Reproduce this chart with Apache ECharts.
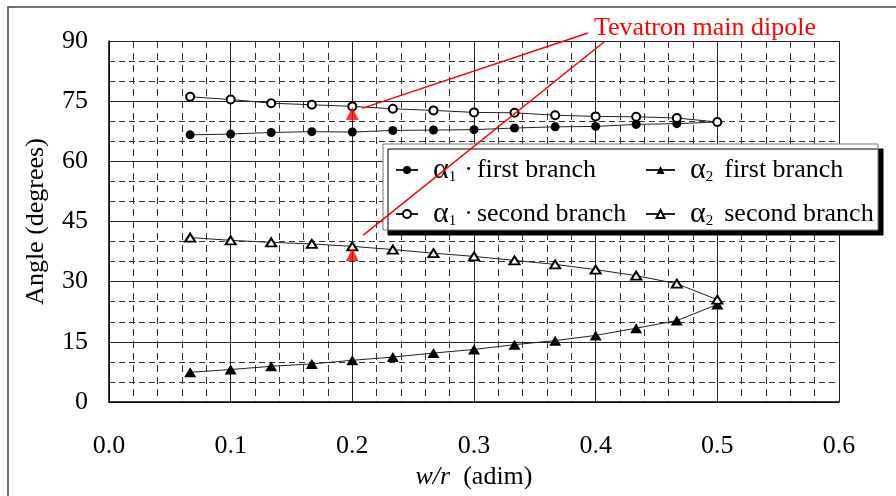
<!DOCTYPE html>
<html>
<head>
<meta charset="utf-8">
<script src="https://cdn.jsdelivr.net/npm/echarts@6/dist/echarts.min.js"></script>
<style>
  html, body { margin: 0; padding: 0; background: #fff; }
  #chart { width: 896px; height: 496px; }
</style>
</head>
<body>
<div id="chart"></div>
<script>
// w/r values (1/15 steps)
var wr = [0.0667, 0.1, 0.1333, 0.1667, 0.2, 0.2333, 0.2667, 0.3, 0.3333, 0.3667, 0.4, 0.4333, 0.4667, 0.5];
// angles in degrees
var a1First  = [66.6, 66.8, 67.2, 67.4, 67.3, 67.7, 67.8, 67.9, 68.3, 68.6, 68.7, 69.2, 69.4, 69.8];
var a1Second = [76.1, 75.4, 74.5, 74.1, 73.7, 73.1, 72.7, 72.2, 72.1, 71.5, 71.2, 71.1, 70.8, 69.8];
var a2First  = [7.4, 8.1, 8.9, 9.5, 10.4, 11.2, 12.2, 13.1, 14.3, 15.3, 16.6, 18.4, 20.3, 24.3];
var a2Second = [41.0, 40.3, 39.8, 39.4, 38.8, 38.0, 37.1, 36.3, 35.3, 34.3, 33.0, 31.5, 29.5, 25.5];
// Tevatron main dipole points
var tevatron = [[0.2, 71.9], [0.2, 36.7]];
var arrowTips = [[0.208, 73.2], [0.209, 41.6]];

var xTicks = [0, 0.6, 0.1];
var yTicks = [0, 90, 15];

function pairs(ys) {
    return wr.map(function (x, i) { return [x, ys[i]]; });
}

var FONT = 'Liberation Serif';

(function () {
    var chart = echarts.init(document.getElementById('chart'));

    var legendRich = {
        a: { fontSize: 30, fontFamily: FONT, color: '#000', padding: [0, 0, 0, 10], lineHeight: 30 },
        s: { fontSize: 15, fontFamily: FONT, color: '#000', verticalAlign: 'bottom', lineHeight: 17 },
        d: { fontSize: 26, fontFamily: FONT, color: '#000', padding: [0, 4, 0, 8] },
        t: { fontSize: 26, fontFamily: FONT, color: '#000' },
        t2: { fontSize: 26, fontFamily: FONT, color: '#000', padding: [0, 0, 0, 11] }
    };

    function legendText(name) {
        var idx = name.charAt(1);
        var rest = name.slice(3);
        if (idx === '1') {
            return '{a|α}{s|1}{d|·}{t|' + rest + '}';
        }
        return '{a|α}{s|2}{t2|' + rest + '}';
    }

    var option = {
        animation: false,
        backgroundColor: '#fff',
        grid: { left: 109, right: 57, top: 41, bottom: 94, containLabel: false, outerBoundsMode: 'none' },
        graphic: [
            {
                type: 'rect', z: -1, silent: true,
                shape: { x: 8, y: 7, width: 900, height: 500 },
                style: { fill: 'none', stroke: '#444', lineWidth: 1.5 }
            },
            {
                type: 'rect', z: 1, silent: true,
                shape: { x: 383, y: 144, width: 495, height: 86 },
                style: {
                    fill: '#fff', stroke: '#777', lineWidth: 1,
                    shadowColor: '#000', shadowBlur: 0, shadowOffsetX: 5, shadowOffsetY: 5
                }
            },
            {
                type: 'text', z: 10, silent: true,
                left: 594, top: 15,
                style: { text: 'Tevatron main dipole', fill: '#ff0000', font: '26px "Liberation Serif"' }
            }
        ],
        legend: [
            {
                orient: 'vertical', left: 390, top: 150,
                itemWidth: 22, itemHeight: 10, itemGap: 14,
                selectedMode: false,
                data: ['α1 first branch', 'α1 second branch'],
                formatter: legendText,
                textStyle: { rich: legendRich }
            },
            {
                orient: 'vertical', left: 640, top: 150,
                itemWidth: 29, itemHeight: 10, itemGap: 14,
                selectedMode: false,
                data: ['α2 first branch', 'α2 second branch'],
                formatter: legendText,
                textStyle: { rich: legendRich }
            }
        ],
        xAxis: {
            type: 'value',
            min: xTicks[0], max: xTicks[1], interval: xTicks[2],
            name: '{i|w/r}{n|  (adim)}',
            nameLocation: 'middle',
            nameGap: 62,
            nameTextStyle: {
                rich: {
                    i: { fontSize: 26, fontFamily: FONT, fontStyle: 'italic', color: '#000' },
                    n: { fontSize: 26, fontFamily: FONT, color: '#000' }
                }
            },
            axisLine: { show: true, onZero: false, lineStyle: { color: '#000', width: 1.5 } },
            axisTick: { show: false },
            minorTick: { show: false, splitNumber: 5 },
            axisLabel: {
                margin: 31, fontSize: 26, fontFamily: FONT, color: '#000',
                formatter: function (v) { return v.toFixed(1); }
            },
            splitLine: { show: true, lineStyle: { color: '#222', width: 1 } },
            minorSplitLine: { show: true, lineStyle: { color: '#333', width: 1, type: [7, 5] } }
        },
        yAxis: {
            type: 'value',
            min: yTicks[0], max: yTicks[1], interval: yTicks[2],
            name: 'Angle (degrees)',
            nameLocation: 'middle',
            nameGap: 60,
            nameTextStyle: { fontSize: 26, fontFamily: FONT, color: '#000' },
            axisLine: { show: true, lineStyle: { color: '#000', width: 1.5 } },
            axisTick: { show: false },
            minorTick: { show: false, splitNumber: 3 },
            axisLabel: { margin: 21, padding: [8, 0, 0, 0], fontSize: 26, fontFamily: FONT, color: '#000' },
            splitLine: { show: true, lineStyle: { color: '#222', width: 1 } },
            minorSplitLine: { show: true, lineStyle: { color: '#333', width: 1, type: [6, 4] } }
        },
        series: [
            {
                name: 'α1 first branch', type: 'line', z: 3,
                data: pairs(a1First),
                symbol: 'circle', symbolSize: 9,
                itemStyle: { color: '#000' },
                lineStyle: { color: '#222', width: 1 }
            },
            {
                name: 'α1 second branch', type: 'line', z: 3,
                data: pairs(a1Second),
                symbol: 'emptyCircle', symbolSize: 8,
                itemStyle: { color: '#000', borderWidth: 1 },
                lineStyle: { color: '#222', width: 1 }
            },
            {
                name: 'α2 first branch', type: 'line', z: 3,
                data: pairs(a2First),
                symbol: 'triangle', symbolSize: [12, 10],
                itemStyle: { color: '#000' },
                lineStyle: { color: '#222', width: 1 }
            },
            {
                name: 'α2 second branch', type: 'line', z: 3,
                data: pairs(a2Second),
                symbol: 'emptyTriangle', symbolSize: [10, 8],
                itemStyle: { color: '#000', borderWidth: 1 },
                lineStyle: { color: '#222', width: 1 }
            },
            {
                name: 'Tevatron', type: 'scatter', z: 4,
                data: tevatron,
                symbol: 'triangle', symbolSize: [13, 13],
                itemStyle: { color: '#ff0000' },
                markLine: {
                    silent: true,
                    symbol: ['none', 'arrow'],
                    symbolSize: [0, 8],
                    label: { show: false },
                    lineStyle: { color: '#ff0000', width: 1.5, type: 'solid' },
                    data: [
                        [{ x: 588, y: 33 }, { coord: arrowTips[0] }],
                        [{ x: 604, y: 42 }, { coord: arrowTips[1] }]
                    ]
                }
            }
        ]
    };

    chart.setOption(option);
})();
</script>
</body>
</html>
